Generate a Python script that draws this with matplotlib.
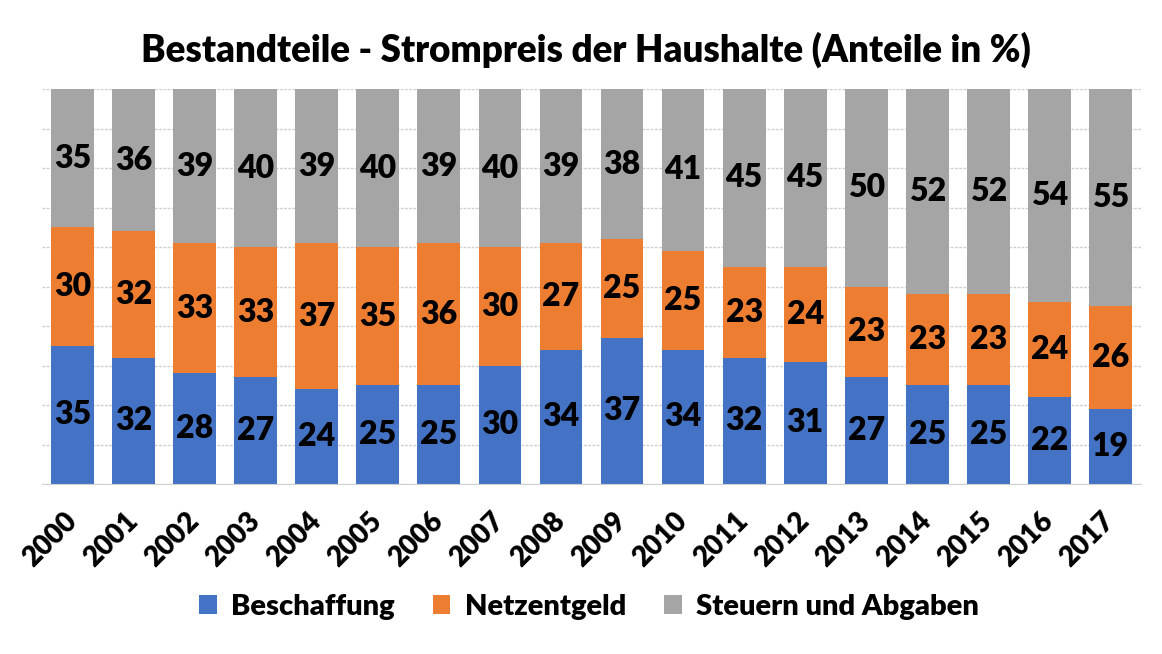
import matplotlib
matplotlib.use('Agg')
from matplotlib import pyplot as plt
import numpy as np

years = ['2000', '2001', '2002', '2003', '2004', '2005', '2006', '2007', '2008',
         '2009', '2010', '2011', '2012', '2013', '2014', '2015', '2016', '2017']
beschaffung = [35, 32, 28, 27, 24, 25, 25, 30, 34, 37, 34, 32, 31, 27, 25, 25, 22, 19]
netzentgeld = [30, 32, 33, 33, 37, 35, 36, 30, 27, 25, 25, 23, 24, 23, 23, 23, 24, 26]
steuern = [35, 36, 39, 40, 39, 40, 39, 40, 39, 38, 41, 45, 45, 50, 52, 52, 54, 55]

series = [('Beschaffung', beschaffung, '#4472C4'),
          ('Netzentgeld', netzentgeld, '#ED7D31'),
          ('Steuern und Abgaben', steuern, '#A5A5A5')]

plt.rcParams['font.family'] = ['Lato', 'DejaVu Sans']
W = 'heavy'

fig = plt.figure(figsize=(11.62, 6.54), dpi=100)
ax = fig.add_axes([42 / 1162, 1 - 484 / 654, (1141 - 42) / 1162, (484 - 89) / 654])

x = np.arange(len(years))
totals = np.array(beschaffung) + np.array(netzentgeld) + np.array(steuern)
bottom = np.zeros(len(years))
for name, vals, col in series:
    share = np.array(vals) / totals * 100
    ax.bar(x, share, 0.7, bottom=bottom, color=col, label=name, zorder=2)
    for xi, b, s, v in zip(x, bottom, share, vals):
        ax.text(xi, b + s / 2, str(v), ha='center', va='center',
                fontsize=23, fontweight=W, color='black', zorder=3)
    bottom += share

ax.set_xlim(-0.5, len(years) - 0.5)
ax.set_ylim(0, 100)
ax.set_yticks(np.arange(0, 101, 10))
ax.yaxis.grid(True, color='#D0D0D0', linestyle=(0, (2, 1)), linewidth=1, zorder=0)
ax.tick_params(axis='y', left=False, labelleft=False)
ax.tick_params(axis='x', bottom=False, pad=20)
for s in ['top', 'right', 'left']:
    ax.spines[s].set_visible(False)
ax.spines['bottom'].set_color('#D0D0D0')

ax.set_xticks(x)
ax.set_xticklabels(years, rotation=45, ha='right', va='center', rotation_mode='anchor',
                   fontsize=20, fontweight=W)

fig.text(0.504, 1 - 50 / 654, 'Bestandteile - Strompreis der Haushalte (Anteile in %)',
         ha='center', va='center', fontsize=26.5, fontweight=W)

fig.legend(loc='center', bbox_to_anchor=(0.507, 1 - 607 / 654), ncol=3, frameon=False,
           handlelength=0.6, handleheight=0.6, columnspacing=1.3,
           handletextpad=0.5, prop={'weight': W, 'size': 21})

plt.savefig('out.png', dpi=100)
